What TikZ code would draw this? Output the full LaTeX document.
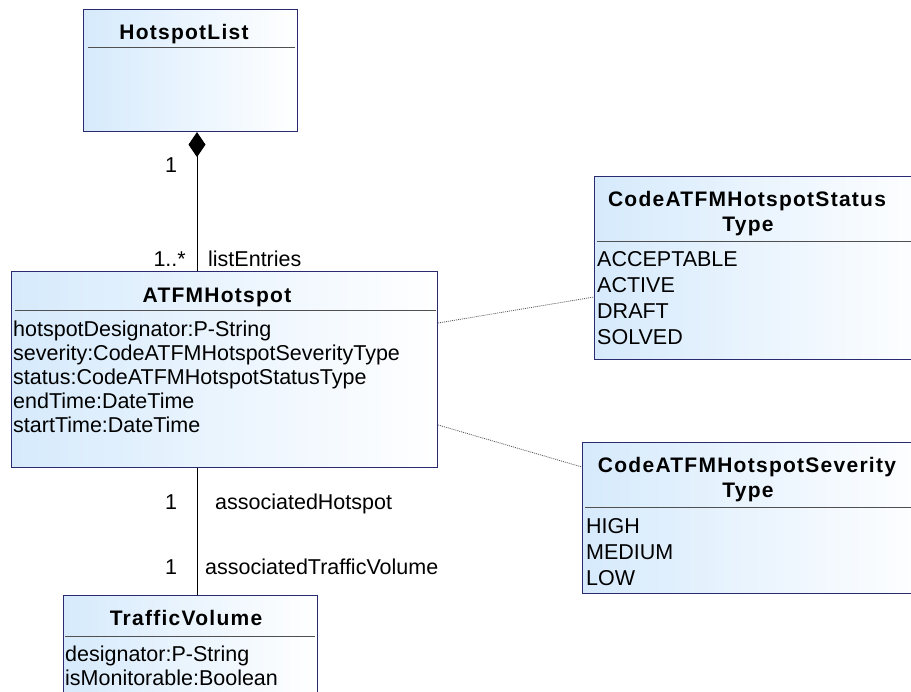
\documentclass[tikz,border=0pt]{standalone}
\usepackage{fontspec}
\setmainfont{Liberation Sans}
\newfontfamily\ttlfont{Liberation Sans}[LetterSpace=6]
\usetikzlibrary{arrows.meta}
\definecolor{boxline}{RGB}{42,42,112}
\definecolor{boxtint}{RGB}{214,234,252}
\definecolor{rulegray}{RGB}{80,80,80}
\definecolor{depgray}{RGB}{90,90,90}
\begin{document}
\begin{tikzpicture}[x=1pt,y=-1pt,
  umlbox/.style={draw=boxline, line width=1.1pt, left color=boxtint, right color=white,
    inner sep=0pt, anchor=north west},
  ttl/.style={font=\ttlfont\bfseries\fontsize{21}{25}\selectfont, inner sep=0pt, anchor=base},
  attr/.style={font=\fontsize{21.5}{25}\selectfont, inner sep=0pt, anchor=base west},
  lbl/.style={font=\fontsize{21.5}{25}\selectfont, inner sep=0pt},
  sepline/.style={draw=rulegray, line width=1pt},
  assoc/.style={draw=black, line width=0.9pt},
  comp/.style={assoc, {Diamond[length=25pt,width=17pt]}-},
  dep/.style={draw=depgray, line width=0.8pt, dash pattern=on 1pt off 1pt}]
\useasboundingbox (0,0) rectangle (911,692);
\clip (0,0) rectangle (911,692);

% class boxes
\node[umlbox, minimum width=214pt, minimum height=122pt] (hl) at (83,9) {};
\node[umlbox, minimum width=426pt, minimum height=196pt] (hot) at (11,271) {};
\node[umlbox, minimum width=254pt, minimum height=130pt] (tv) at (63,595) {};
\node[umlbox, minimum width=340pt, minimum height=183pt] (st) at (594,176) {};
\node[umlbox, minimum width=350pt, minimum height=151pt] (sv) at (582,442) {};

% compartment rules
\draw[sepline] (88,48) -- (295,48);
\draw[sepline] (15,311) -- (436,311);
\draw[sepline] (65,636) -- (315,636);
\draw[sepline] (597,242) -- (911,242);
\draw[sepline] (585,508) -- (911,508);

% HotspotList
\node[ttl] (hlT) at (184,40) {HotspotList};

% ATFMHotspot
\node[ttl] (hotT) at (217,303) {ATFMHotspot};
\node[attr] (hotA1) at (13,337) {hotspotDesignator:P-String};
\node[attr] (hotA2) at (13,361) {severity:CodeATFMHotspotSeverityType};
\node[attr] (hotA3) at (13,385) {status:CodeATFMHotspotStatusType};
\node[attr] (hotA4) at (13,409) {endTime:DateTime};
\node[attr] (hotA5) at (13,433) {startTime:DateTime};

% TrafficVolume
\node[ttl] (tvT) at (186,625) {TrafficVolume};
\node[attr] (tvA1) at (65,661) {designator:P-String};
\node[attr] (tvA2) at (65,685) {isMonitorable:Boolean};

% CodeATFMHotspotStatusType
\node[ttl] (stT1) at (747,207) {CodeATFMHotspotStatus};
\node[ttl] (stT2) at (748,232) {Type};
\node[attr] (stL1) at (597,267) {ACCEPTABLE};
\node[attr] (stL2) at (597,293) {ACTIVE};
\node[attr] (stL3) at (597,319) {DRAFT};
\node[attr] (stL4) at (597,345) {SOLVED};

% CodeATFMHotspotSeverityType
\node[ttl] (svT1) at (747,473) {CodeATFMHotspotSeverity};
\node[ttl] (svT2) at (748,498) {Type};
\node[attr] (svL1) at (586,533) {HIGH};
\node[attr] (svL2) at (586,559) {MEDIUM};
\node[attr] (svL3) at (586,585) {LOW};

% associations
\coordinate (axis) at (197,0);
\draw[comp] (hl.south -| axis) -- (hot.north -| axis);
\draw[assoc] (hot.south -| axis) -- (tv.north -| axis);
\draw[dep] (hot.east |- 0,323) -- (st.west |- 0,297);
\draw[dep] (hot.east |- 0,425) -- (sv.west |- 0,467);

% role names and multiplicities
\node[lbl, anchor=base] (m1) at (171,173) {1};
\node[lbl, anchor=base east] (m2) at (186,267) {1..*};
\node[lbl, anchor=base west] (r1) at (208,267) {listEntries};
\node[lbl, anchor=base] (m3) at (171,510) {1};
\node[lbl, anchor=base west] (r2) at (215,510) {associatedHotspot};
\node[lbl, anchor=base] (m4) at (171,575) {1};
\node[lbl, anchor=base west] (r3) at (205,575) {associatedTrafficVolume};
\end{tikzpicture}
\end{document}
